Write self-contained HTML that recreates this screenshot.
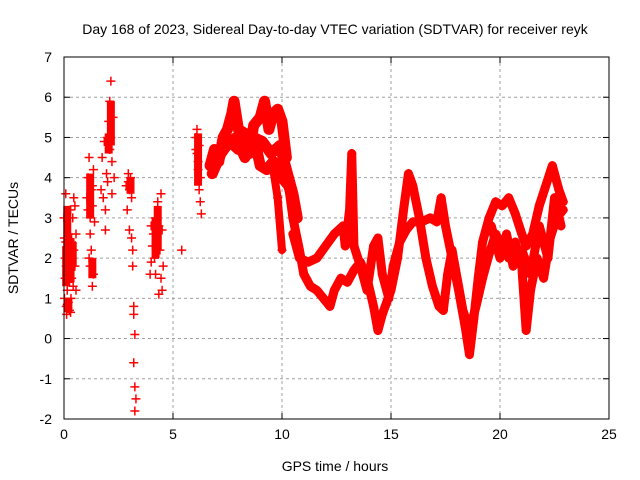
<!DOCTYPE html>
<html><head><meta charset="utf-8"><style>
body{margin:0;background:#fff}
svg{display:block;font-family:"Liberation Sans",sans-serif}
</style></head><body>
<svg id="c" width="640" height="480">
<text x="335" y="34" font-size="14" text-anchor="middle">Day 168 of 2023, Sidereal Day-to-day VTEC variation (SDTVAR) for receiver reyk</text>
<text x="335" y="471" font-size="14" text-anchor="middle">GPS time / hours</text>
<text transform="translate(18,238) rotate(-90)" font-size="14" text-anchor="middle">SDTVAR / TECUs</text>
<g id="grid"></g><g id="marks"></g>
<rect x="64" y="57" width="545" height="362" fill="none" stroke="#000" stroke-width="1"/>
</svg>
<script>
const xTicks=[0,5,10,15,20,25];
const yTicks=[-2,-1,0,1,2,3,4,5,6,7];
const scatterT=[0.02,0.05,0.05,0.08,0.1,0.1,0.12,0.15,0.15,0.18,0.2,0.2,0.22,0.25,0.25,0.28,0.3,0.3,0.32,0.35,0.35,0.38,0.4,0.42,0.45,0.45,0.5,0.5,0.55,0.55,0.0,0.02,0.08,0.15,0.18,0.3,
1.05,1.1,1.1,1.15,1.15,1.2,1.2,1.25,1.25,1.3,1.3,1.35,1.35,1.4,1.2,1.3,
1.75,1.8,1.85,1.9,1.95,2.0,2.05,2.1,2.1,2.15,2.15,2.2,2.2,2.25,1.9,2.0,1.7,2.3,
2.85,2.9,2.95,3.0,3.05,3.1,3.0,3.1,3.15,3.2,3.2,3.25,3.2,3.25,3.3,3.25,3.15,2.95,
3.95,4.0,4.05,4.1,4.15,4.2,4.25,4.3,4.35,4.4,4.45,4.45,4.5,4.55,4.5,4.2,4.35,4.0,
5.4,6.05,6.1,6.1,6.15,6.2,6.2,6.25,6.3,6.15,6.25,6.05];
const scatterV=[1.0,1.5,2.0,2.4,1.8,0.8,0.6,1.2,2.2,1.6,0.9,2.6,1.9,1.4,0.7,2.1,1.7,3.2,1.0,2.4,1.5,2.0,3.0,1.3,2.2,3.5,1.8,3.3,2.6,1.2,3.0,2.5,3.6,0.85,0.75,0.65,
3.5,3.2,4.0,4.5,2.0,3.0,1.8,2.2,3.7,3.3,1.3,1.6,4.2,2.9,2.6,3.8,
4.5,3.5,4.9,3.2,4.1,5.0,5.4,5.9,4.7,6.4,5.0,4.4,3.6,5.5,2.7,3.9,3.7,4.0,
3.8,3.2,4.1,3.7,4.0,3.5,2.7,2.5,1.8,0.8,0.6,0.1,-0.6,-1.2,-1.5,-1.8,2.2,3.9,
1.6,1.9,2.3,2.6,2.0,3.0,2.4,3.4,2.8,2.2,3.6,1.5,1.2,1.8,2.7,1.6,1.1,2.8,
2.2,5.0,4.6,5.2,4.2,4.8,3.7,3.4,3.1,4.4,4.0,4.7];
const clusterT=[0.1,0.2,0.3,0.4,0.2,0.15,1.2,1.3,2.05,2.15,3.05,4.2,4.3,6.15];
const clusterV1=[1.3,1.5,1.4,1.8,0.65,2.2,3.0,1.5,4.6,4.8,3.6,2.0,2.2,3.8];
const clusterV2=[2.3,2.6,2.5,2.4,1.0,3.3,4.1,2.0,5.1,5.9,4.0,3.0,3.3,5.1];
const bandUpT=[6.7,6.9,7.1,7.3,7.5,7.7,7.8,8.0,8.3,8.5,8.7,9.0,9.2,9.4,9.6,9.8,10.0,10.2];
const bandUpV=[4.3,4.7,4.4,5.0,5.2,5.6,5.9,5.2,5.1,4.6,5.3,5.5,5.9,5.2,5.6,5.7,5.4,4.5];
const bandMidT=[6.9,7.4,7.9,8.3,8.7,9.1,9.5,9.9,10.2,10.5,10.7];
const bandMidV=[4.4,4.8,5.0,4.5,5.0,4.9,4.6,4.8,4.2,3.6,3.0];
const bandLoT=[6.8,7.2,7.6,8.0,8.4,8.8,9.0,9.3,9.6,9.8,10.0,10.3,10.6];
const bandLoV=[4.1,4.6,4.9,4.7,4.9,4.8,4.3,4.2,4.4,4.1,4.0,3.8,3.3];
const dropT=[9.6,9.8,10.0];
const dropV=[4.2,3.5,2.2];
const trackAT=[10.3,10.5,10.8,11.0,11.3,11.6,11.9,12.2,12.4,12.7,13.0,13.3,13.6,13.9,14.2,14.4,14.6,15.0,15.3,15.6,15.8,16.0,16.3,16.6,16.9,17.2,17.4];
const trackAV=[3.8,3.0,2.2,1.6,1.3,1.2,1.0,0.8,1.2,1.5,1.4,1.7,1.9,1.5,0.8,0.2,0.6,1.2,2.0,3.3,4.1,3.8,3.0,2.0,1.3,0.8,0.7];
const trackBT=[10.5,10.8,11.2,11.6,12.0,12.4,12.8,12.9,13.1,13.2,13.3,13.6,13.9,14.2,14.4,14.6,14.9,15.1,15.4,15.7,16.0,16.4,16.8,17.1,17.3,17.5,17.8,18.1,18.4,18.6,18.8,19.0,19.2,19.5,19.8,20.1,20.4,20.7,21.0,21.2,21.5,21.8,22.1,22.4,22.7,22.9];
const trackBV=[2.6,2.0,1.9,2.0,2.3,2.6,2.8,2.3,3.2,4.6,2.3,1.8,1.2,2.3,2.5,1.6,1.0,1.8,2.4,2.7,2.9,2.9,3.0,2.9,3.5,2.8,2.0,1.2,0.3,-0.4,0.5,1.5,2.4,3.0,3.4,3.3,3.5,3.1,2.6,2.3,2.6,3.3,3.8,4.3,3.7,3.4];
const trackCT=[17.4,17.6,17.8,18.1,18.3,18.6,18.9,19.2,19.5,19.8,20.1,20.4,20.7,21.0,21.2,21.4,21.7,22.0,22.3,22.6,22.9];
const trackCV=[0.7,1.6,2.2,1.3,0.7,0.2,0.8,1.5,2.1,2.6,2.3,2.0,2.4,1.8,0.2,1.2,2.0,1.5,2.5,3.0,3.2];
const trackDT=[19.6,20.0,20.3,20.6,21.0,21.4,21.8,22.2,22.5,22.8];
const trackDV=[2.8,2.0,2.6,1.8,2.2,1.6,2.8,2.0,3.5,2.8];

const X0=64,X1=609,Y0=419,Y1=57;
const xs=t=>X0+(t-0)/(25-0)*(X1-X0);
const ys=v=>Y0-(v+2)/(7+2)*(Y0-Y1);
const NS='http://www.w3.org/2000/svg';
const grid=document.getElementById('grid'),marks=document.getElementById('marks');
function mk(tag,parent){const e=document.createElementNS(NS,tag);parent.appendChild(e);return e;}
xTicks.forEach(t=>{
  const x=xs(t);
  if(t>0&&t<25){const l=mk('line',grid);l.setAttribute('x1',x);l.setAttribute('x2',x);l.setAttribute('y1',Y1);l.setAttribute('y2',Y0);l.setAttribute('stroke','#a0a0a0');l.setAttribute('stroke-dasharray','3,3');
  
  }
  [[Y0,Y0-6],[Y1,Y1+6]].forEach(p=>{const k=mk('line',grid);k.setAttribute('x1',x);k.setAttribute('x2',x);k.setAttribute('y1',p[0]);k.setAttribute('y2',p[1]);k.setAttribute('stroke','#000');
  
  });
  const tx=mk('text',grid);tx.setAttribute('x',x);tx.setAttribute('y',Y0+20);tx.setAttribute('font-size','14');tx.setAttribute('text-anchor','middle');tx.textContent=t;
  
  
});
yTicks.forEach(v=>{
  const y=ys(v);
  if(v>-2&&v<7){const l=mk('line',grid);l.setAttribute('x1',X0);l.setAttribute('x2',X1);l.setAttribute('y1',y);l.setAttribute('y2',y);l.setAttribute('stroke','#a0a0a0');l.setAttribute('stroke-dasharray','3,3');
  
  }
  [[X0,X0+6],[X1,X1-6]].forEach(p=>{const k=mk('line',grid);k.setAttribute('x1',p[0]);k.setAttribute('x2',p[1]);k.setAttribute('y1',y);k.setAttribute('y2',y);k.setAttribute('stroke','#000');
  
  });
  const tx=mk('text',grid);tx.setAttribute('x',X0-12);tx.setAttribute('y',y+5);tx.setAttribute('font-size','14');tx.setAttribute('text-anchor','end');tx.textContent=v;
  
  
});
function plus(t,v){
  const x=xs(t),y=ys(v);
  const p=mk('path',marks);p.setAttribute('d',`M${x-4.5} ${y}H${x+4.5}M${x} ${y-4.5}V${y+4.5}`);p.setAttribute('stroke','#f00');p.setAttribute('stroke-width','1.5');
  
  
}
function track(T,V,name,w){
  const pl=mk('polyline',marks);pl.setAttribute('points',T.map((t,i)=>xs(t)+','+ys(V[i])).join(' '));
  pl.setAttribute('fill','none');pl.setAttribute('stroke','#f00');pl.setAttribute('stroke-width',w||9);pl.setAttribute('stroke-linejoin','round');pl.setAttribute('stroke-linecap','round');
  
  
  T.forEach((t,i)=>plus(t,V[i]));
}
scatterT.forEach((t,i)=>plus(t,scatterV[i]));
clusterT.forEach((t,i)=>{
  const l=mk('line',marks);l.setAttribute('x1',xs(t));l.setAttribute('x2',xs(t));l.setAttribute('y1',ys(clusterV1[i]));l.setAttribute('y2',ys(clusterV2[i]));
  l.setAttribute('stroke','#f00');l.setAttribute('stroke-width','8');
  
  
});
track(bandUpT,bandUpV,'band-upper-trace',11);
track(bandMidT,bandMidV,'band-mid-trace',11);
track(bandLoT,bandLoV,'band-lower-trace',11);
track(dropT,dropV,'drop-trace',8);
track(trackAT,trackAV,'track-a');
track(trackBT,trackBV,'track-b');
track(trackCT,trackCV,'track-c');
track(trackDT,trackDV,'track-d');
</script>
</body></html>
